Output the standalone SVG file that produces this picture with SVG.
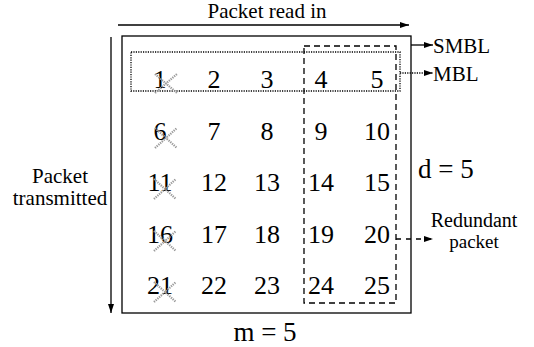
<svg xmlns="http://www.w3.org/2000/svg" width="534" height="347" viewBox="0 0 534 347">
<style>
text{font-family:"Liberation Serif","Times New Roman",serif;fill:#000}
.num{font-size:26px;text-anchor:middle}
.lbl{font-size:21px}
.red{text-anchor:middle}
.big{font-size:27px}
.solid{stroke:#000;stroke-width:1.3;fill:none}
.dot{stroke:#000;stroke-width:1.3;fill:none;stroke-dasharray:1.2 1.2}
.dash{stroke:#000;stroke-width:1.3;fill:none;stroke-dasharray:6 4}
.x{stroke:#9a9a9a;stroke-width:2.2;stroke-dasharray:1.3 1;fill:none}
</style>
<defs>
<marker id="ah" markerWidth="10" markerHeight="8" refX="9" refY="4" orient="auto" markerUnits="userSpaceOnUse">
<path d="M0,1 L9,4 L0,7 Z" fill="#000"/>
</marker>
</defs>
<g id="frame">
<rect x="122" y="36" width="289" height="277" class="solid" stroke-width="1.6"/>
</g>
<g id="mbl-box"><rect x="131" y="52" width="269" height="39" class="dot"/></g>
<g id="smbl-box"><rect x="304" y="46" width="92" height="257" class="dash"/></g>
<g id="connectors">
<line x1="118" y1="25" x2="409" y2="25" class="solid" marker-end="url(#ah)"/>
<line x1="111" y1="37" x2="111" y2="313" class="solid" marker-end="url(#ah)"/>
<line x1="411" y1="45" x2="433" y2="45" class="solid" marker-end="url(#ah)"/>
<line x1="400" y1="73" x2="433" y2="73" class="dot" marker-end="url(#ah)"/>
<line x1="396" y1="239" x2="433" y2="239" stroke="#000" stroke-width="1.3" stroke-dasharray="5 5" marker-end="url(#ah)"/>
</g>
<g id="labels">
<text x="267" y="18" class="lbl" text-anchor="middle">Packet read in</text>
<text x="60" y="183" class="lbl" text-anchor="middle">Packet</text>
<text x="60" y="205" class="lbl" text-anchor="middle">transmitted</text>
<text x="433" y="53" class="lbl">SMBL</text>
<text x="433" y="81" class="lbl">MBL</text>
<text x="474" y="227" class="red" font-size="20">Redundant</text>
<text x="474" y="248" class="red" font-size="19">packet</text>
<text x="418" y="178" class="big">d = 5</text>
<text x="265" y="341" class="big" text-anchor="middle">m = 5</text>
</g>
<g id="cells">
<text x="160" y="88" class="num">1</text><text x="214" y="88" class="num">2</text><text x="267" y="88" class="num">3</text><text x="321" y="88" class="num">4</text><text x="377" y="88" class="num">5</text>
<text x="160" y="140" class="num">6</text><text x="214" y="140" class="num">7</text><text x="267" y="140" class="num">8</text><text x="321" y="140" class="num">9</text><text x="377" y="140" class="num">10</text>
<text x="160" y="191" class="num">11</text><text x="214" y="191" class="num">12</text><text x="267" y="191" class="num">13</text><text x="321" y="191" class="num">14</text><text x="377" y="191" class="num">15</text>
<text x="160" y="243" class="num">16</text><text x="214" y="243" class="num">17</text><text x="267" y="243" class="num">18</text><text x="321" y="243" class="num">19</text><text x="377" y="243" class="num">20</text>
<text x="160" y="294" class="num">21</text><text x="214" y="294" class="num">22</text><text x="267" y="294" class="num">23</text><text x="321" y="294" class="num">24</text><text x="377" y="294" class="num">25</text>
</g>
<g id="crosses">
<path class="x" d="M155,74 L177,93 M155,93 L177,74"/>
<path class="x" d="M155,128 L177,148 M155,148 L177,128"/>
<path class="x" d="M154,179 L176,199 M154,199 L176,179"/>
<path class="x" d="M154,231 L176,251 M154,251 L176,231"/>
<path class="x" d="M154,282 L176,302 M154,302 L176,282"/>
</g>
</svg>
